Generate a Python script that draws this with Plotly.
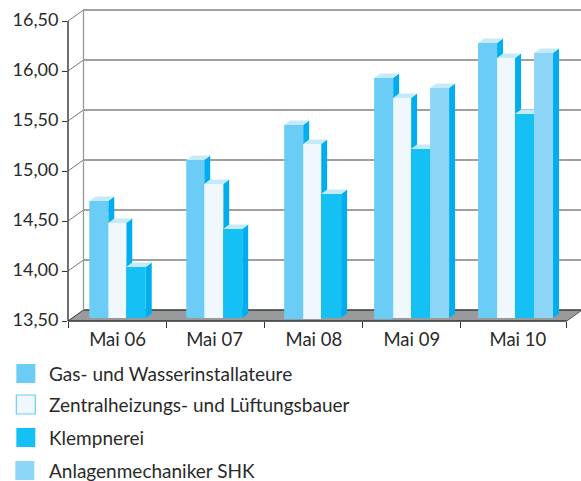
import plotly.graph_objects as go

# ---- data ----
categories = ["Mai 06", "Mai 07", "Mai 08", "Mai 09", "Mai 10"]
series_names = ["Gas- und Wasserinstallateure", "Zentralheizungs- und Lüftungsbauer",
                "Klempnerei", "Anlagenmechaniker SHK"]
gas = [14.67, 15.08, 15.43, 15.90, 16.25]
zentral = [14.45, 14.84, 15.24, 15.70, 16.10]
klempner = [14.01, 14.39, 14.74, 15.19, 15.54]
anlagen = [None, None, None, 15.80, 16.15]
y_ticks = [13.5, 14.0, 14.5, 15.0, 15.5, 16.0, 16.5]
y_tick_text = ["13,50", "14,00", "14,50", "15,00", "15,50", "16,00", "16,50"]

# ---- layout constants (pixels of the 581x481 page) ----
W, H = 581, 481
PL, PR, PT, PB = 67.7, 581.0, 8.0, 321.0   # plot box
PX_PER_VAL = 100.0
PX_PER_CAT = 98.2
DEPTH_X, DEPTH_Y = 15.5, 11.0              # wall depth
BAR_DX, BAR_DY = 6.0, 4.5                  # bar depth
LIFT = 3.0                                 # bar foot above the front edge
LOW_FOOT = {(2, 0), (2, 1), (3, 0)}        # (category, series) whose foot sits 1px lower
AXIS_END_PX = 566.7
GROUP_LEFT_PX = [89.0, 186.0, 284.0, 374.0, 478.0]
BAR_W_PX = [[19, 18, 19.5], [18, 19, 19], [19, 18, 20], [19, 18, 19, 19], [19, 18, 19, 19]]
LABEL_PX = [117.3, 214.3, 313.7, 411.7, 517.8]
COLORS = ["#6bcdf6", "#f0f8fe", "#15c0f5", "#8dd6f8"]
SIDE, TOP = "#00aeef", "#c5ebfb"
FONT = "Lato"
TEXT = "#2a2a2a"


def xv(px):
    return (px - PL) / PX_PER_CAT


def dx(px):
    return px / PX_PER_CAT


def dy(px):
    return px / PX_PER_VAL


def poly(points, fill, line=None, layer="below", width=1.3):
    path = "M " + " L ".join(f"{a:.4f},{b:.4f}" for a, b in points) + " Z"
    return dict(type="path", path=path, xref="x", yref="y", layer=layer, fillcolor=fill,
                line=dict(color=line, width=width) if line else dict(width=0))


Y0, YT = 13.5, 16.5
shapes = []
x_end = xv(AXIS_END_PX)

# floor
shapes.append(poly([(0, Y0), (dx(DEPTH_X), Y0 + dy(DEPTH_Y)),
                    (x_end + dx(DEPTH_X), Y0 + dy(DEPTH_Y)), (x_end, Y0)], "#999a9c"))
# back wall gridlines and their side-wall diagonals
for t in y_ticks:
    yb = t + dy(DEPTH_Y)
    grid_col = "#3a3a3a" if t == Y0 else "#808080"
    shapes.append(dict(type="line", xref="x", yref="y", layer="below", x0=dx(DEPTH_X), x1=xv(PR),
                       y0=yb, y1=yb, line=dict(color=grid_col, width=1.3)))
    shapes.append(dict(type="line", xref="x", yref="y", layer="below", x0=0, x1=dx(DEPTH_X),
                       y0=t, y1=yb, line=dict(color="#3a3a3a" if t == Y0 else "#777777", width=1)))
shapes.append(dict(type="line", xref="x", yref="y", layer="below", x0=dx(DEPTH_X), x1=dx(DEPTH_X),
                   y0=Y0 + dy(DEPTH_Y), y1=YT + dy(DEPTH_Y), line=dict(color="#999999", width=1.3)))
shapes.append(dict(type="line", xref="x", yref="y", layer="below", x0=x_end, x1=x_end + dx(DEPTH_X),
                   y0=Y0, y1=Y0 + dy(DEPTH_Y), line=dict(color="#555555", width=1)))

# front axes
shapes.append(dict(type="line", xref="paper", yref="y", layer="above", x0=0, x1=0, y0=Y0, y1=YT,
                   line=dict(color="#333333", width=1.4)))
shapes.append(dict(type="line", xref="x", yref="paper", layer="above", x0=0, x1=x_end, y0=0, y1=0,
                   line=dict(color="#333333", width=1.4)))

all_series = [gas, zentral, klempner, anlagen]


def foot(c, s):
    return Y0 + dy(LIFT - (1.0 if (c, s) in LOW_FOOT else 0.0))


traces = []
for s, values in enumerate(all_series):
    xs, hs, offs, ws, bases = [], [], [], [], []
    for c, v in enumerate(values):
        if v is None:
            continue
        left_px = GROUP_LEFT_PX[c] + sum(BAR_W_PX[c][:s])
        offs.append(xv(left_px) - c)
        ws.append(dx(BAR_W_PX[c][s]))
        xs.append(c)
        bases.append(foot(c, s))
        hs.append(v + dy(LIFT) - foot(c, s))
    traces.append(go.Bar(x=xs, y=hs, base=bases, offset=offs, width=ws, name=series_names[s],
                         marker=dict(color=COLORS[s], line=dict(width=0)), showlegend=False))

# depth faces, painted left to right, underneath the bar fronts
for c in range(len(categories)):
    for s, values in enumerate(all_series):
        v = values[c]
        if v is None:
            continue
        l = xv(GROUP_LEFT_PX[c] + sum(BAR_W_PX[c][:s]))
        r = l + dx(BAR_W_PX[c][s])
        top = v + dy(LIFT)
        bot = foot(c, s)
        ox, oy = dx(BAR_DX), dy(BAR_DY)
        shapes.append(poly([(r, top), (r + ox, top + oy), (r + ox, bot + oy), (r, bot)], SIDE))
        shapes.append(poly([(l, top), (l + ox, top + oy), (r + ox, top + oy), (r, top)], TOP))


def fx(p):
    return (p - PL) / (PR - PL)


def fy(p):
    return (PB - p) / (PB - PT)


# legend
annotations = []
LEG_Y = [373.5, 404.5, 437.5, 470.5]
LEG_X = [16, 16, 16, 15]
for name, col, yc, x0 in zip(series_names, COLORS, LEG_Y, LEG_X):
    bordered = col == COLORS[1]
    shapes.append(dict(type="rect", xref="paper", yref="paper", layer="above",
                       x0=fx(x0), x1=fx(x0 + 19), y0=fy(yc + 9.5), y1=fy(yc - 9.5), fillcolor=col,
                       line=dict(color=COLORS[0], width=1.2) if bordered else dict(width=0)))
    annotations.append(dict(xref="paper", yref="paper", x=fx(47), y=fy(yc), text=name, showarrow=False,
                            xanchor="left", yanchor="middle",
                            font=dict(family=FONT, size=19, color=TEXT)))

fig = go.Figure(traces)
fig.update_layout(
    width=W, height=H, margin=dict(l=PL, r=W - PR, t=PT, b=H - PB, pad=0, autoexpand=False),
    paper_bgcolor="white", plot_bgcolor="white", barmode="overlay", showlegend=False,
    shapes=shapes, annotations=annotations,
    font=dict(family=FONT, size=18, color=TEXT),
    xaxis=dict(range=[0, xv(PR)], tickmode="array", tickvals=[xv(p) for p in LABEL_PX], ticktext=categories,
               ticks="", showgrid=False, zeroline=False, showline=False, ticklabelstandoff=5,
               tickfont=dict(family=FONT, size=18.5, color=TEXT),
               minor=dict(tickmode="array", tickvals=[0, 1, 2, 3, 4, x_end], ticks="outside", ticklen=6,
                          tickwidth=1.3, tickcolor="#333333", showgrid=False)),
    yaxis=dict(range=[Y0, Y0 + dy(PB - PT)], tickmode="array", tickvals=y_ticks, ticktext=y_tick_text,
               ticks="outside", ticklen=5, tickwidth=1.3, tickcolor="#333333", showgrid=False,
               zeroline=False, showline=False, ticklabelshift=-1,
               tickfont=dict(family=FONT, size=18, color=TEXT)),
)
fig.write_html("out.html", post_script="document.body.style.margin='0';",
               config={"displayModeBar": False})
